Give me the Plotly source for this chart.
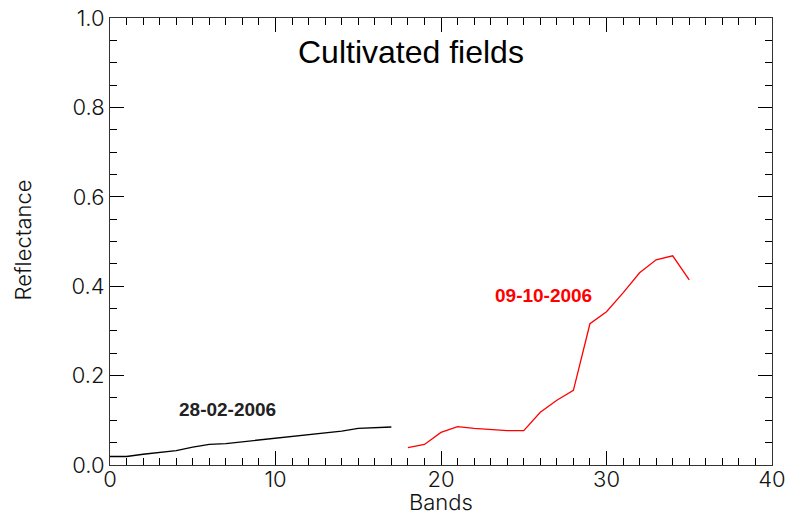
import plotly.graph_objects as go

# Spectral bands and reflectance for the two acquisition dates
bands_feb = list(range(0, 18))
refl_feb = [0.019, 0.019, 0.024, 0.028, 0.032, 0.040, 0.046, 0.048, 0.052,
            0.056, 0.060, 0.064, 0.068, 0.072, 0.076, 0.082, 0.083, 0.085]

bands_oct = list(range(18, 36))
refl_oct = [0.039, 0.046, 0.073, 0.086, 0.082, 0.080, 0.077, 0.077, 0.118,
            0.145, 0.167, 0.316, 0.343, 0.385, 0.430, 0.459, 0.468, 0.414]

label_feb = "28-02-2006"
label_oct = "09-10-2006"
title_text = "Cultivated fields"
x_title = "Bands"
y_title = "Reflectance"

tick_font = dict(family="Inter, DejaVu Sans", size=22, color="#111111", weight=300)
axis_title_font = dict(family="Inter, DejaVu Sans", size=22, color="#111111", weight=300)

fig = go.Figure()
fig.add_trace(go.Scatter(x=bands_feb, y=refl_feb, mode="lines",
                         line=dict(color="black", width=1.3), showlegend=False))
fig.add_trace(go.Scatter(x=bands_oct, y=refl_oct, mode="lines",
                         line=dict(color="#ff0000", width=1.3), showlegend=False))

fig.add_annotation(x=7.07, y=0.125, text=label_feb, showarrow=False,
                   font=dict(family="Liberation Sans", size=19, color="#222222", weight="bold"))
fig.add_annotation(x=26.2, y=0.379, text=label_oct, showarrow=False,
                   font=dict(family="Liberation Sans", size=19, color="#ff0000", weight="bold"))
fig.add_annotation(x=18.2, y=0.924, text=title_text, showarrow=False,
                   font=dict(family="Liberation Sans", size=32, color="black"))

# Axis titles placed just outside the frame
fig.add_annotation(xref="paper", yref="paper", x=0.5, y=-0.083, text=x_title,
                   showarrow=False, yanchor="middle", xanchor="center", font=axis_title_font)
fig.add_annotation(xref="paper", yref="paper", x=-0.131, y=0.503, text=y_title,
                   showarrow=False, textangle=-90, xanchor="center", yanchor="middle",
                   font=axis_title_font)

axis_common = dict(
    showgrid=False, zeroline=False, showline=True, linecolor="#333333", linewidth=1,
    mirror="allticks", ticks="inside", ticklen=14, tickwidth=1, tickcolor="black",
    tickfont=tick_font, automargin=False,
)

fig.update_xaxes(range=[0, 40], dtick=10, tick0=0, ticklabelstandoff=-5,
                 minor=dict(dtick=1, ticklen=7, ticks="inside", tickcolor="black", tickwidth=1),
                 **axis_common)
fig.update_yaxes(range=[0, 1], dtick=0.2, tick0=0, tickformat=".1f",
                 minor=dict(dtick=0.05, ticklen=7, ticks="inside", tickcolor="black", tickwidth=1),
                 **axis_common)

fig.update_layout(
    width=787, height=515,
    margin=dict(l=110, r=15, t=18, b=50),
    plot_bgcolor="white", paper_bgcolor="white",
)

fig.write_html("out.html")
